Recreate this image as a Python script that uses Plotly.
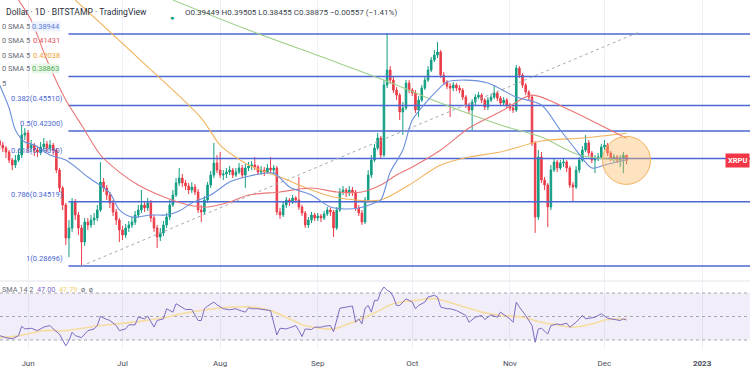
import numpy as np
import pandas as pd
import plotly.graph_objects as go

# ---------------- data ----------------
start_date = "2022-05-23"
first_open = 0.4110

closes = [
    0.4063, 0.4028, 0.3982, 0.3891, 0.3836, 0.3891, 0.3948, 0.4181, 0.4206, 0.4028,
    0.4063, 0.4005, 0.3982, 0.4040, 0.4075, 0.4028, 0.4063, 0.4005, 0.3781, 0.3591,
    0.3420, 0.3110, 0.3201, 0.3449, 0.3323, 0.3201, 0.3074, 0.3256, 0.3229, 0.3275,
    0.3294, 0.3371, 0.3653, 0.3591, 0.3519, 0.3440, 0.3352, 0.3275, 0.3183, 0.3137,
    0.3201, 0.3229, 0.3256, 0.3323, 0.3371, 0.3420, 0.3391, 0.3440, 0.3294, 0.3201,
    0.3119, 0.3156, 0.3229, 0.3304, 0.3420, 0.3519, 0.3643, 0.3695, 0.3643, 0.3612,
    0.3570, 0.3601, 0.3550, 0.3371, 0.3352, 0.3469, 0.3622, 0.3727, 0.3858, 0.3781,
    0.3727, 0.3738, 0.3759, 0.3781, 0.3727, 0.3759, 0.3803, 0.3727, 0.3803, 0.3825,
    0.3836, 0.3814, 0.3759, 0.3781, 0.3759, 0.3803, 0.3781, 0.3803, 0.3352, 0.3323,
    0.3420, 0.3469, 0.3449, 0.3489, 0.3469, 0.3400, 0.3342, 0.3229, 0.3275, 0.3323,
    0.3294, 0.3313, 0.3294, 0.3333, 0.3371, 0.3352, 0.3201, 0.3371, 0.3550, 0.3570,
    0.3539, 0.3570, 0.3550, 0.3391, 0.3342, 0.3256, 0.3469, 0.3727, 0.3891, 0.4028,
    0.4146, 0.3948, 0.4827, 0.5040, 0.4897, 0.4758, 0.4690, 0.4468, 0.4519, 0.4855,
    0.4758, 0.4717, 0.4493, 0.4623, 0.4786, 0.4897, 0.5040, 0.5187, 0.5262, 0.5308,
    0.4968, 0.4869, 0.4813, 0.4786, 0.4827, 0.4786, 0.4758, 0.4663, 0.4558, 0.4493,
    0.4597, 0.4663, 0.4690, 0.4623, 0.4532, 0.4623, 0.4663, 0.4717, 0.4650, 0.4584,
    0.4623, 0.4558, 0.4519, 0.4493, 0.5069, 0.4968, 0.4827, 0.4731, 0.4663, 0.4087,
    0.3304, 0.3925, 0.3674, 0.3622, 0.3400, 0.3781, 0.3869, 0.3803, 0.3858, 0.3869,
    0.3803, 0.3622, 0.3601, 0.3781, 0.3891, 0.4005, 0.4087, 0.3971, 0.3891, 0.3914,
    0.3925, 0.4040, 0.4063, 0.3971, 0.3914, 0.3925, 0.3891, 0.3914, 0.3945, 0.38875,
]
highs = [
    0.4134, 0.4098, 0.4051, 0.4005, 0.3914, 0.3948, 0.4005, 0.4291, 0.4266, 0.4242,
    0.4122, 0.4087, 0.4051, 0.4098, 0.4146, 0.4110, 0.4122, 0.4087, 0.4028, 0.3803,
    0.3612, 0.3440, 0.3275, 0.3489, 0.3479, 0.3352, 0.3229, 0.3294, 0.3294, 0.3323,
    0.3342, 0.3420, 0.3869, 0.3695, 0.3622, 0.3550, 0.3469, 0.3381, 0.3294, 0.3220,
    0.3238, 0.3266, 0.3304, 0.3361, 0.3420, 0.3570, 0.3459, 0.3489, 0.3469, 0.3323,
    0.3229, 0.3201, 0.3266, 0.3342, 0.3469, 0.3570, 0.3695, 0.3803, 0.3738, 0.3674,
    0.3643, 0.3653, 0.3632, 0.3580, 0.3420, 0.3509, 0.3653, 0.3770, 0.4087, 0.3948,
    0.3982, 0.3781, 0.3803, 0.3825, 0.3803, 0.3803, 0.3858, 0.3836, 0.3847, 0.3869,
    0.3880, 0.3925, 0.3836, 0.3825, 0.3814, 0.3847, 0.3925, 0.3836, 0.3825, 0.3391,
    0.3449, 0.3499, 0.3489, 0.3519, 0.3509, 0.3706, 0.3420, 0.3361, 0.3304, 0.3352,
    0.3342, 0.3342, 0.3333, 0.3361, 0.3400, 0.3391, 0.3371, 0.3400, 0.3591, 0.3612,
    0.3591, 0.3612, 0.3601, 0.3570, 0.3420, 0.3371, 0.3499, 0.3781, 0.3948, 0.4075,
    0.4206, 0.4169, 0.4897, 0.5605, 0.5098, 0.4940, 0.4799, 0.4717, 0.4597, 0.4897,
    0.4897, 0.4786, 0.4758, 0.4677, 0.4827, 0.4940, 0.5098, 0.5232, 0.5338, 0.5462,
    0.5338, 0.5011, 0.4897, 0.4855, 0.4869, 0.4855, 0.4827, 0.4786, 0.4690, 0.4584,
    0.4636, 0.4704, 0.4731, 0.4717, 0.4650, 0.4663, 0.4704, 0.4827, 0.4744, 0.4677,
    0.4663, 0.4650, 0.4584, 0.4558, 0.5113, 0.5098, 0.4997, 0.4855, 0.4758, 0.4690,
    0.4110, 0.4005, 0.3982, 0.3706, 0.3643, 0.3836, 0.3914, 0.3891, 0.3891, 0.3914,
    0.3891, 0.3825, 0.3653, 0.3825, 0.3925, 0.4051, 0.4181, 0.4122, 0.3994, 0.3948,
    0.3971, 0.4075, 0.4122, 0.4087, 0.3994, 0.3959, 0.3948, 0.3948, 0.3982, 0.39505,
]
lows = [
    0.4005, 0.3982, 0.3914, 0.3858, 0.3781, 0.3803, 0.3869, 0.3914, 0.4122, 0.3982,
    0.3982, 0.3937, 0.3925, 0.3948, 0.4005, 0.3982, 0.3994, 0.3948, 0.3748, 0.3550,
    0.3371, 0.3048, 0.2944, 0.3165, 0.3275, 0.3137, 0.2870, 0.3039, 0.3183, 0.3201,
    0.3229, 0.3266, 0.3352, 0.3550, 0.3469, 0.3391, 0.3313, 0.3229, 0.3074, 0.3092,
    0.3110, 0.3165, 0.3201, 0.3229, 0.3294, 0.3342, 0.3352, 0.3361, 0.3256, 0.3165,
    0.3022, 0.3083, 0.3128, 0.3201, 0.3275, 0.3400, 0.3499, 0.3612, 0.3601, 0.3570,
    0.3529, 0.3539, 0.3519, 0.3342, 0.3256, 0.3323, 0.3440, 0.3591, 0.3695, 0.3748,
    0.3695, 0.3674, 0.3695, 0.3727, 0.3695, 0.3706, 0.3738, 0.3695, 0.3591, 0.3770,
    0.3781, 0.3781, 0.3727, 0.3727, 0.3716, 0.3738, 0.3748, 0.3738, 0.3323, 0.3285,
    0.3304, 0.3391, 0.3410, 0.3430, 0.3440, 0.3371, 0.3313, 0.3201, 0.3201, 0.3247,
    0.3266, 0.3266, 0.3256, 0.3275, 0.3313, 0.3313, 0.3119, 0.3183, 0.3352, 0.3519,
    0.3499, 0.3509, 0.3509, 0.3361, 0.3313, 0.3229, 0.3238, 0.3449, 0.3695, 0.3869,
    0.4005, 0.3914, 0.3925, 0.4786, 0.4841, 0.4717, 0.4623, 0.4365, 0.4181, 0.4493,
    0.4717, 0.4677, 0.4455, 0.4404, 0.4597, 0.4758, 0.4869, 0.5011, 0.5157, 0.5217,
    0.4926, 0.4827, 0.4772, 0.4404, 0.4744, 0.4744, 0.4717, 0.4623, 0.4519, 0.4455,
    0.4242, 0.4558, 0.4636, 0.4584, 0.4493, 0.4493, 0.4597, 0.4636, 0.4610, 0.4545,
    0.4545, 0.4519, 0.4480, 0.4455, 0.4468, 0.4926, 0.4786, 0.4690, 0.4623, 0.4051,
    0.3156, 0.3275, 0.3643, 0.3570, 0.3210, 0.3371, 0.3759, 0.3759, 0.3781, 0.3814,
    0.3759, 0.3591, 0.3449, 0.3580, 0.3748, 0.3869, 0.3982, 0.3937, 0.3858, 0.3748,
    0.3880, 0.3902, 0.4005, 0.3937, 0.3880, 0.3869, 0.3858, 0.3814, 0.3748, 0.38455,
]

# moving averages (day index from start_date, value)
ma_blue_days = [0, 3, 5, 8, 11, 16, 21, 28, 35, 38, 42, 48, 53, 57, 61, 67, 73, 78, 87, 92,
                99, 105, 110, 114, 119, 121, 124, 128, 131, 136, 139, 142, 148, 155, 164, 172, 178, 183, 188, 192, 199]
ma_blue_vals = [0.4827, 0.4519, 0.4242, 0.4098, 0.4063, 0.3948, 0.3891, 0.3706, 0.3539, 0.3371,
                0.3304, 0.3323, 0.3323, 0.3361, 0.3440, 0.3519, 0.3653, 0.3706, 0.3748, 0.3601,
                0.3519, 0.3400, 0.3381, 0.3391, 0.3440, 0.3469, 0.3759, 0.4005, 0.4365, 0.4623,
                0.4758, 0.4869, 0.4897, 0.4855, 0.4663, 0.4558, 0.4242, 0.4005, 0.3803, 0.3836, 0.38944]
ma_red_days = [6, 10, 15, 21, 26, 32, 38, 44, 53, 60, 66, 73, 79, 89, 99, 107, 115, 121, 126, 131,
               140, 149, 160, 169, 181, 190, 199]
ma_red_vals = [0.6163, 0.5819, 0.5187, 0.4623, 0.4303, 0.3948, 0.3759, 0.3622, 0.3489, 0.3420,
               0.3400, 0.3449, 0.3519, 0.3550, 0.3591, 0.3550, 0.3550, 0.3622, 0.3727, 0.3814,
               0.4005, 0.4266, 0.4493, 0.4690, 0.4493, 0.4316, 0.41431]
ma_orange_days = [24, 44, 64, 70, 79, 89, 99, 106, 113, 121, 130, 140, 149, 159, 172, 185, 199]
ma_orange_vals = [0.6163, 0.5217, 0.4391, 0.4063, 0.3836, 0.3706, 0.3570, 0.3499, 0.3469, 0.3469,
                  0.3622, 0.3836, 0.3925, 0.3982, 0.4110, 0.4146, 0.42038]
ma_green_days = [55, 79, 105, 122, 140, 159, 172, 184, 199]
ma_green_vals = [0.6163, 0.5654, 0.5187, 0.4897, 0.4584, 0.4303, 0.4158, 0.3948, 0.38863]

# Fibonacci retracement
fib_ratios = [0, 0.236, 0.382, 0.5, 0.618, 0.786, 1]
fib_prices = [0.55906, 0.49485, 0.45510, 0.42300, 0.39090, 0.34519, 0.28696]
fib_labelled = [0.382, 0.5, 0.618, 0.786, 1]
fib_start = "2022-06-13 20:00"
fib_end = "2023-02-15"

# dotted trend line
trend_dates = ["2022-06-18", "2022-12-12"]
trend_prices = [0.28696, 0.5622]

# RSI
rsi_days = [0, 2, 4, 6, 7, 8, 10, 12, 14, 16,
            17, 19, 21, 22, 23, 24, 26, 27, 28, 30,
            31, 32, 33, 35, 37, 38, 40, 41, 43, 44,
            46, 47, 49, 50, 52, 53, 55, 56, 58, 59,
            61, 63, 64, 65, 66, 68, 69, 71, 73, 75,
            76, 78, 79, 80, 82, 84, 86, 88, 89, 91,
            93, 94, 95, 96, 97, 99, 100, 102, 103, 105,
            106, 107, 108, 110, 112, 113, 114, 115, 116, 117,
            118, 119, 120, 121, 122, 123, 124, 125, 126, 127,
            129, 131, 132, 133, 135, 136, 138, 139, 140, 142,
            143, 145, 147, 148, 149, 151, 153, 154, 156, 158,
            159, 161, 162, 163, 164, 165, 167, 169, 170, 171,
            172, 174, 175, 177, 178, 180, 181, 183, 185, 186,
            188, 189, 191, 193, 194, 196, 197, 198, 199]
rsi_vals = [33.7, 32, 31, 33.7, 41.7, 39.4, 40, 38, 41, 42.3,
            39.4, 35, 25, 29.4, 36.6, 33.7, 32, 35, 38, 39.4,
            42.3, 50.3, 48.6, 46.6, 42.3, 38, 39.4, 42.9, 42.9, 49.4,
            48, 50.3, 41, 46.6, 48, 56.6, 53.7, 60.9, 58, 56,
            56, 46.6, 46.6, 56.6, 58.9, 62.3, 60, 56.6, 55.7, 56.6,
            55.4, 53.7, 57.4, 56.6, 56.6, 56, 55, 34.3, 40, 39.4,
            40.9, 42.3, 38, 32.9, 39.4, 38.9, 40.9, 40.9, 41.7, 42.3,
            37, 48, 57, 58, 58.9, 45.1, 48, 43.7, 57, 59.4,
            53.7, 63.7, 63.7, 70.9, 75.1, 72.3, 70.9, 66.6, 59.4, 59.4,
            65.1, 62.3, 56.6, 59.4, 62.3, 66.6, 68, 66.6, 58, 56.6,
            56.6, 55.1, 52.3, 50.9, 45.1, 49.4, 50.9, 47.4, 51.4, 49.4,
            53.7, 50.3, 48, 45.1, 62.3, 58, 50.9, 42.3, 28, 39.4,
            40, 35.1, 42.3, 43.7, 42.9, 44.3, 40.9, 45.1, 50.9, 48,
            48.6, 49.4, 52.3, 48.6, 48, 47.4, 46.6, 48, 47.0]
rsi_sma_days = [0, 6, 14, 21, 32, 42, 53, 59, 68, 74, 80, 86, 92, 97, 102, 106, 112, 119, 125, 132,
                138, 146, 153, 159, 166, 172, 178, 182, 188, 193, 199]
rsi_sma_vals = [32, 33.5, 38, 38, 42.3, 45, 49.4, 53, 56.6, 58, 58, 55, 48, 42.3, 40, 39.4, 45, 53, 60.9, 63.7,
                65.1, 59.4, 53.7, 50.9, 49.4, 45.1, 42.3, 40.9, 43.7, 47.4, 47.79]
rsi_levels = [70, 50, 30]

month_ticks = ["2022-06-01", "2022-07-01", "2022-08-01", "2022-09-01", "2022-10-01",
               "2022-11-01", "2022-12-01", "2023-01-01"]
month_labels = ["Jun", "Jul", "Aug", "Sep", "Oct", "Nov", "Dec", "<b>2023</b>"]

header = "Dollar · 1D · BITSTAMP · TradingView"
ohlc_text = "O0.39449 H0.39505 L0.38455 C0.38875 −0.00557 (−1.41%)"
ma_values = ["0.38944", "0.41431", "0.42038", "0.38863"]
rsi_header_vals = ["47.00", "47.79"]
symbol_tag = "XRPU"

# ---------------- geometry / styling ----------------
W, H = 750, 375
FONT = "Roboto, 'Open Sans', sans-serif"
start = pd.Timestamp(start_date)
dates = pd.date_range(start, periods=len(closes), freq="D")
opens = [first_open] + closes[:-1]


def dd(days):
    return [start + pd.Timedelta(days=d) for d in days]


PX_DAY, X_JUN1 = 3.15, 28.0
jun1 = pd.Timestamp("2022-06-01")
x_left = (jun1 - pd.Timedelta(days=X_JUN1 / PX_DAY)).isoformat()
x_right = (jun1 + pd.Timedelta(days=(W - X_JUN1) / PX_DAY)).isoformat()

Y_FIB1, Y_FIB0 = 266.0, 34.0
kpx = (Y_FIB1 - Y_FIB0) / np.log(fib_prices[0] / fib_prices[-1])
PRICE_TOP, PRICE_BOT = 0.0, 281.0
p_top = fib_prices[-1] * np.exp((Y_FIB1 - PRICE_TOP) / kpx)
p_bot = fib_prices[-1] * np.exp((Y_FIB1 - PRICE_BOT) / kpx)

RSI_TOP, RSI_BOT = 281.0, 350.0
rsi_pp = (340 - 293) / 40.0
r_top = 70 + (293 - RSI_TOP) / rsi_pp
r_bot = 30 - (RSI_BOT - 340) / rsi_pp


def py(p):
    return 1 - p / H


FIB_C = "#4a67d3"
GREEN, RED = "#129e84", "#ea3d4a"

fig = go.Figure()

# RSI band and levels
fig.add_trace(go.Scatter(x=[x_left, x_right], y=[rsi_levels[0]] * 2, mode="lines",
                         line=dict(width=0), xaxis="x2", yaxis="y2", hoverinfo="skip"))
fig.add_trace(go.Scatter(x=[x_left, x_right], y=[rsi_levels[2]] * 2, mode="lines",
                         line=dict(width=0), fill="tonexty", fillcolor="rgba(126,87,194,0.10)",
                         xaxis="x2", yaxis="y2", hoverinfo="skip"))
for lv in rsi_levels:
    fig.add_trace(go.Scatter(x=[x_left, x_right], y=[lv, lv], mode="lines",
                             line=dict(color="#a3a6af", width=1, dash="dot"),
                             xaxis="x2", yaxis="y2", hoverinfo="skip"))
fig.add_trace(go.Scatter(x=dd(rsi_sma_days), y=rsi_sma_vals, mode="lines",
                         line=dict(color="#f6dca0", width=1.6, shape="spline", smoothing=1.0),
                         xaxis="x2", yaxis="y2"))
fig.add_trace(go.Scatter(x=dd(rsi_days), y=rsi_vals, mode="lines",
                         line=dict(color="#7e6cc4", width=1),
                         xaxis="x2", yaxis="y2"))

# Fibonacci level lines
for lv in fib_prices:
    fig.add_trace(go.Scatter(x=[fib_start, fib_end], y=[lv, lv], mode="lines",
                             line=dict(color=FIB_C, width=1.4), hoverinfo="skip"))

# trend line
fig.add_trace(go.Scatter(x=trend_dates, y=trend_prices, mode="lines",
                         line=dict(color="#a9abb3", width=1, dash="dot"), hoverinfo="skip"))

# candles
fig.add_trace(go.Candlestick(x=dates, open=opens, high=highs, low=lows, close=closes,
                             increasing=dict(line=dict(color=GREEN, width=1), fillcolor=GREEN),
                             decreasing=dict(line=dict(color=RED, width=1), fillcolor=RED),
                             whiskerwidth=0, showlegend=False))

# moving averages
for days, vals, col in [(ma_green_days, ma_green_vals, "#9fcf8a"),
                        (ma_orange_days, ma_orange_vals, "#f2b35c"),
                        (ma_red_days, ma_red_vals, "#ea7676"),
                        (ma_blue_days, ma_blue_vals, "#6b8fdc")]:
    fig.add_trace(go.Scatter(x=dd(days), y=vals, mode="lines",
                             line=dict(color=col, width=1.1, shape="spline", smoothing=0.8)))

# highlight circle around the latest candles
fig.add_trace(go.Scatter(x=[dates[-1]], y=[closes[-1]], mode="markers",
                         marker=dict(size=48, color="rgba(252,186,100,0.40)",
                                     line=dict(color="#f2b25c", width=1))))

shapes = [dict(type="line", xref="paper", yref="paper", x0=0, x1=1,
               y0=py(PRICE_BOT), y1=py(PRICE_BOT), line=dict(color="#e0e3eb", width=1))]

ann = []
for r, p in zip(fib_ratios, fib_prices):
    if r in fib_labelled:
        ann.append(dict(x=pd.Timestamp(fib_start) - pd.Timedelta(days=1.0), y=np.log10(p),
                        xref="x", yref="y", xanchor="right", yanchor="bottom", yshift=1,
                        text=f"{r:g}({p:.5f})", showarrow=False,
                        font=dict(family=FONT, size=7.5, color=FIB_C)))


def txt(x, y, s, color, size=7.5, anchor="left", bg=None):
    d = dict(x=x / W, y=py(y), xref="paper", yref="paper", xanchor=anchor, yanchor="middle",
             text=s, showarrow=False, font=dict(family=FONT, size=size, color=color))
    if bg:
        d.update(bgcolor=bg, borderpad=0)
    return d


ann.append(txt(4, 12, header, "#2a2e39", size=8.6))
ann.append(dict(x=168 / W, y=py(12), xref="paper", yref="paper", text="●", showarrow=False,
                font=dict(size=7, color="#089981")))
ann.append(txt(183, 12, ohlc_text, "#3b3f4a", size=8))
ma_cols = ["#5b7fd6", "#e0535a", "#eea23a", "#4caf50"]
ma_bgs = ["rgba(235,240,252,0.95)", None, None, "rgba(232,245,233,0.95)"]
for v, c, bg, yy in zip(ma_values, ma_cols, ma_bgs, [26, 41, 55, 69]):
    ann.append(txt(0, yy, "0 SMA 5", "#6a6d78", size=7.5))
    ann.append(txt(31, yy, v, c, size=7.5, bg=bg))
ann.append(txt(0, 83, "5", "#6a6d78", size=7.5))
ann.append(txt(0, 289, "SMA 14 2", "#6a6d78", size=7.3))
ann.append(txt(35, 289, rsi_header_vals[0], "#7e6cc4", size=7.3))
ann.append(txt(57, 289, rsi_header_vals[1], "#f0cf70", size=7.3))
ann.append(txt(79, 289, "ø  ø", "#6a6d78", size=7.3))
ann.append(dict(x=1, y=py(160), xref="paper", yref="paper", xanchor="right", yanchor="middle",
                text="<b>" + symbol_tag + "</b>", showarrow=False, bgcolor="#f23645", borderpad=2,
                font=dict(family=FONT, size=7.5, color="white")))

grid = "#eff1f6"
fig.update_layout(
    width=W, height=H, autosize=False, showlegend=False, hovermode=False,
    margin=dict(l=0, r=0, t=0, b=0, pad=0), paper_bgcolor="white", plot_bgcolor="white",
    font=dict(family=FONT),
    xaxis=dict(domain=[0, 1], range=[x_left, x_right], autorange=False, type="date", anchor="y",
               rangeslider=dict(visible=False), showticklabels=False, ticks="",
               tickvals=month_ticks, showgrid=True, gridcolor=grid, zeroline=False,
               showline=False),
    yaxis=dict(domain=[py(PRICE_BOT), py(PRICE_TOP)], type="log", autorange=False,
               range=[np.log10(p_bot), np.log10(p_top)], showticklabels=False,
               showgrid=False, zeroline=False, ticks=""),
    xaxis2=dict(domain=[0, 1], range=[x_left, x_right], autorange=False, type="date", anchor="y2",
                tickvals=month_ticks, ticktext=month_labels, ticks="", ticklabelstandoff=7,
                tickfont=dict(family=FONT, size=8, color="#4a4e59"), showgrid=True,
                gridcolor=grid, zeroline=False, showline=False),
    yaxis2=dict(domain=[py(RSI_BOT), py(RSI_TOP)], range=[r_bot, r_top], autorange=False,
                showticklabels=False, showgrid=False, zeroline=False, ticks=""),
    shapes=shapes, annotations=ann,
)

fig.write_html("out.html", config={"displayModeBar": False, "staticPlot": True},
               post_script="document.body.style.margin='0px';document.body.style.padding='0px';")
